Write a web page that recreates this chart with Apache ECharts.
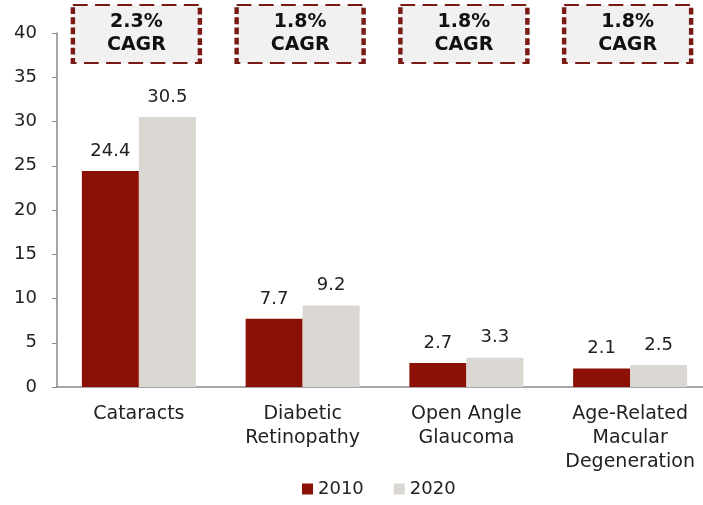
<!DOCTYPE html>
<html>
<head>
<meta charset="utf-8">
<script src="https://cdn.jsdelivr.net/npm/echarts@6/dist/echarts.min.js"></script>
<style>
  html, body { margin: 0; padding: 0; background: #fff; overflow: hidden; }
  #chart { width: 712px; height: 505px; }
</style>
</head>
<body>
<div id="chart"></div>
<script>
const categories = ['Cataracts', 'Diabetic\nRetinopathy', 'Open Angle\nGlaucoma', 'Age-Related\nMacular\nDegeneration'];
const values2010 = [24.4, 7.7, 2.7, 2.1];
const values2020 = [30.5, 9.2, 3.3, 2.5];
const cagrLabels = ['2.3%\nCAGR', '1.8%\nCAGR', '1.8%\nCAGR', '1.8%\nCAGR'];
const yTicks = { min: 0, max: 40, interval: 5 };

const FONT = 'DejaVu Sans';
const chart = echarts.init(document.getElementById('chart'));

// CAGR boxes above each category
const cagrPoints = categories.map((c, i) => ({
  coord: [c, 40],
  value: cagrLabels[i]
}));

const option = {
  animation: false,
  textStyle: { fontFamily: FONT },
  // plot runs slightly past the visible window, as in the source
  grid: { left: 57, top: 33, bottom: 118, right: 0, containLabel: false },
  legend: {
    data: ['2010', '2020'],
    bottom: 2,
    left: 297,
    itemWidth: 11,
    itemHeight: 11,
    itemGap: 30,
    icon: 'rect',
    textStyle: { fontSize: 18, color: '#222', fontFamily: FONT }
  },
  xAxis: {
    type: 'category',
    data: categories,
    axisLine: { lineStyle: { color: '#888', width: 1.5 } },
    axisTick: { show: false },
    axisLabel: { fontSize: 19, color: '#222', lineHeight: 24, margin: 15, interval: 0 }
  },
  yAxis: {
    type: 'value',
    min: yTicks.min,
    max: yTicks.max,
    interval: yTicks.interval,
    axisLine: { show: true, lineStyle: { color: '#888', width: 1.5 } },
    axisTick: { show: true, length: 5, lineStyle: { color: '#888' } },
    splitLine: { show: false },
    axisLabel: { fontSize: 18, color: '#222', margin: 20 }
  },
  series: [
    {
      name: '2010',
      type: 'bar',
      data: values2010,
      barWidth: 57,
      barGap: '0%',
      itemStyle: { color: '#8B1006' },
      label: { show: true, position: 'top', distance: 11, fontSize: 18, color: '#222' },
      markPoint: {
        symbol: 'rect',
        symbolSize: [127, 58],
        symbolOffset: [26, 1],
        itemStyle: {
          color: '#F1F1F1',
          borderColor: '#7A1A14',
          borderWidth: 3,
          borderType: [10, 5]
        },
        label: {
          show: true,
          formatter: p => p.value,
          fontSize: 19,
          fontWeight: 'bold',
          color: '#111',
          lineHeight: 23
        },
        data: cagrPoints
      }
    },
    {
      name: '2020',
      type: 'bar',
      data: values2020,
      barWidth: 57,
      itemStyle: { color: '#DAD7D3' },
      label: { show: true, position: 'top', distance: 11, fontSize: 18, color: '#222' }
    }
  ]
};

chart.setOption(option);
</script>
</body>
</html>
